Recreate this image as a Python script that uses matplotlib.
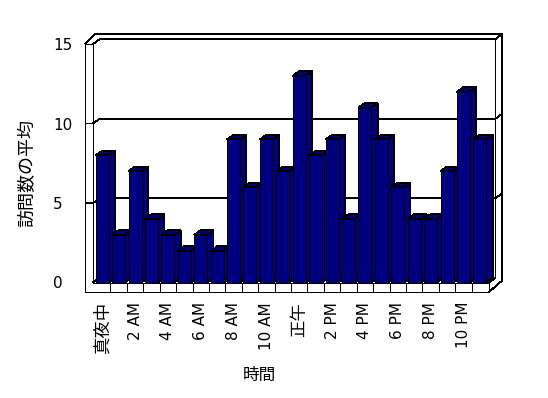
import matplotlib
matplotlib.use('Agg')
import matplotlib.pyplot as plt
from matplotlib.patches import Polygon

# ---- data ----
hours = list(range(24))
values = [8, 3, 7, 4, 3, 2, 3, 2, 9, 6, 9, 7, 13, 8, 9, 4, 11, 9, 6, 4, 4, 7, 12, 9]
tick_labels = ['真夜中', '', '2 AM', '', '4 AM', '', '6 AM', '', '8 AM', '', '10 AM', '',
               '正午', '', '2 PM', '', '4 PM', '', '6 PM', '', '8 PM', '', '10 PM', '']
y_ticks = [0, 5, 10, 15]
grid_values = [5, 10]
x_title = '時間'
y_title = '訪問数の平均'

plt.rcParams['font.family'] = ['DejaVu Sans', 'Noto Sans CJK JP']

W, H = 548, 398
fig = plt.figure(figsize=(W / 100, H / 100), dpi=100)
fig.patch.set_facecolor('white')

ax_l, ax_r, ax_t, ax_b = 93, 489, 44, 282.5
ax = fig.add_axes([ax_l / W, 1 - ax_b / H, (ax_r - ax_l) / W, (ax_b - ax_t) / H])
sx = 16.42
c0 = 102.2
ax.set_xlim((ax_l - c0) / sx, (ax_r - c0) / sx)
ax.set_ylim(0, 15)
px = 1 / sx                 # data-x per pixel
py = 15 / (ax_b - ax_t)     # data-y per pixel
x0, x1 = ax.get_xlim()
ymax = 15

navy = '#000080'
lw = 0.6
AA = False

def line(xs, ys, z=1):
    ax.plot(xs, ys, color='black', lw=lw, clip_on=False, zorder=z,
            solid_joinstyle='miter', solid_capstyle='butt', antialiased=AA)

# ---- frame (walls / floor) ----
wall = 8 * px
floor = 9.5 * py
dxi, dyi = 6.5 * px, 4.8 * py      # depth to back wall inner face
dxo = 6.5 * px                     # back wall thickness

# front L-shaped face (left wall + floor)
line([x0, x0 - wall, x0 - wall, x1, x1, x0, x0],
     [ymax, ymax, -floor, -floor, 0, 0, ymax])
# outer back edge
line([x0 - wall, x0 - wall + 10 * px, x1 + dxi + dxo, x1 + dxi + dxo, x1],
     [ymax, ymax + 10 * py, ymax + 10 * py, -floor + 11.3 * py, -floor])
# inner back wall face
line([x0, x0 + dxi, x1 + dxi, x1 + dxi, x1],
     [ymax, ymax + dyi, ymax + dyi, dyi, 0])
line([x1 + dxi, x1 + dxi + dxo], [ymax + dyi, ymax + 10 * py])
# floor back edge
line([x0, x0 + dxi, x1 + dxi], [0, dyi, dyi])
# gridlines
for v in grid_values:
    line([x0 - wall, x0, x0 + dxi, x1 + dxi, x1 + dxi + dxo],
         [v, v, v + dyi, v + dyi, v + dyi + 4.7 * py])
# floor dividers
for k in hours[1:]:
    line([k - 0.5, k - 0.5], [-floor, 0])

# ---- bars ----
bw = 13 * px
dxb, dyb = 6.3 * px, 4.5 * py
bars = ax.bar(hours, values, width=bw, color=navy, edgecolor='black', lw=lw)
for i, (rect, v) in enumerate(zip(bars.patches, values)):
    rect.set_clip_on(False)
    rect.set_antialiased(AA)
    rect.set_zorder(4 + 2 * i)
    L = rect.get_x()
    R = L + rect.get_width()
    side = Polygon([(R, 0), (R + dxb, dyb), (R + dxb, v + dyb), (R, v)], closed=True,
                   facecolor=navy, edgecolor='black', lw=lw, clip_on=False, zorder=3 + 2 * i,
                   joinstyle='miter', antialiased=AA)
    top = Polygon([(L, v), (R, v), (R + dxb, v + dyb), (L + dxb, v + dyb)], closed=True,
                  facecolor=navy, edgecolor='black', lw=lw, clip_on=False, zorder=3 + 2 * i,
                  joinstyle='miter', antialiased=AA)
    ax.add_patch(side)
    ax.add_patch(top)

# ---- ticks & labels ----
for s in ax.spines.values():
    s.set_visible(False)
ax.patch.set_visible(False)

ax.set_yticks(y_ticks)
ax.set_yticklabels([str(t) for t in y_ticks], fontsize=11)
ax.tick_params(axis='y', length=0, pad=28.8)
for lb in ax.get_yticklabels():
    lb.set_horizontalalignment('left')

ax.set_xticks(hours)
ax.set_xticklabels(tick_labels, rotation=90, fontsize=11)
ax.tick_params(axis='x', length=0, pad=14)
for lb in ax.get_xticklabels():
    if any(ord(c) > 0x3000 for c in lb.get_text()):
        lb.set_fontsize(12.5)

fig.text(259 / W, 1 - 375.5 / H, x_title, fontsize=12, ha='center', va='center',
         family=['Noto Sans CJK JP'])
fig.text(27 / W, 1 - 173 / H, y_title, fontsize=13, ha='center', va='center',
         rotation=90, family=['Noto Sans CJK JP'])

fig.savefig('out.png', dpi=100, facecolor='white')
